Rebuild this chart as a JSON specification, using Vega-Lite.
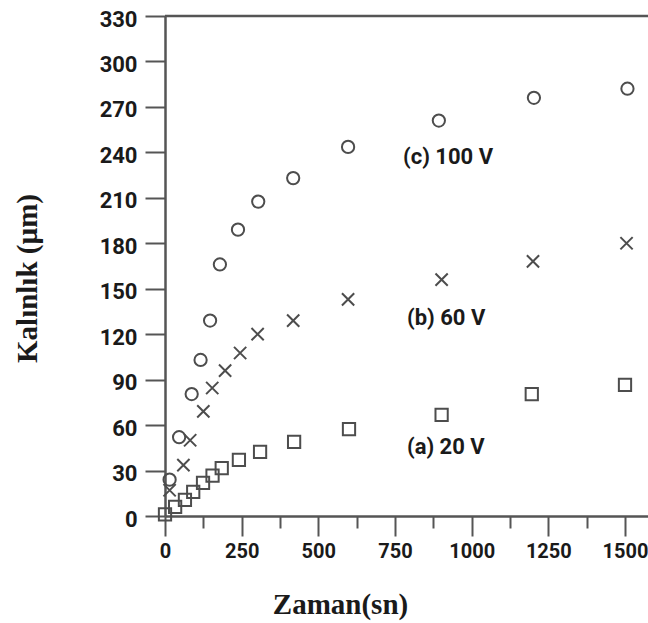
{
  "$schema": "https://vega.github.io/schema/vega-lite/v6.json",
  "width": 483,
  "height": 500,
  "autosize": {"type": "none"},
  "padding": {"left": 165, "top": 16, "right": 0, "bottom": 107},
  "background": "white",
  "config": {
    "view": {"stroke": null},
    "axis": {
      "domainColor": "#555555",
      "domainWidth": 2.5,
      "tickColor": "#555555",
      "tickWidth": 2,
      "grid": false,
      "labelFont": "Roboto, sans-serif",
      "labelFontWeight": "bold",
      "labelFontSize": 22,
      "labelColor": "#1a1a1a",
      "titleFont": "Liberation Serif, Times New Roman, serif",
      "titleFontWeight": "bold",
      "titleFontSize": 29,
      "titleColor": "#1a1a1a"
    }
  },
  "datasets": {
    "olcum": [
      {"t": 0, "k": 1, "seri": "a"},
      {"t": 33, "k": 6, "seri": "a"},
      {"t": 65, "k": 10.6, "seri": "a"},
      {"t": 92, "k": 16, "seri": "a"},
      {"t": 124, "k": 21.8, "seri": "a"},
      {"t": 155, "k": 26.6, "seri": "a"},
      {"t": 185, "k": 31.6, "seri": "a"},
      {"t": 241, "k": 37, "seri": "a"},
      {"t": 310, "k": 42.4, "seri": "a"},
      {"t": 421, "k": 49, "seri": "a"},
      {"t": 600, "k": 57.4, "seri": "a"},
      {"t": 902, "k": 66.7, "seri": "a"},
      {"t": 1196, "k": 80.5, "seri": "a"},
      {"t": 1500, "k": 86.5, "seri": "a"},
      {"t": 15, "k": 17, "seri": "b"},
      {"t": 60, "k": 33.6, "seri": "b"},
      {"t": 82, "k": 50, "seri": "b"},
      {"t": 125, "k": 69, "seri": "b"},
      {"t": 154, "k": 84.5, "seri": "b"},
      {"t": 196, "k": 96, "seri": "b"},
      {"t": 245, "k": 107.6, "seri": "b"},
      {"t": 302, "k": 120, "seri": "b"},
      {"t": 418, "k": 129, "seri": "b"},
      {"t": 597, "k": 143, "seri": "b"},
      {"t": 902, "k": 156, "seri": "b"},
      {"t": 1200, "k": 168, "seri": "b"},
      {"t": 1505, "k": 180, "seri": "b"},
      {"t": 15, "k": 24, "seri": "c"},
      {"t": 46, "k": 52, "seri": "c"},
      {"t": 87, "k": 80.5, "seri": "c"},
      {"t": 116, "k": 103, "seri": "c"},
      {"t": 147, "k": 129, "seri": "c"},
      {"t": 179, "k": 166, "seri": "c"},
      {"t": 238, "k": 189, "seri": "c"},
      {"t": 304, "k": 207.5, "seri": "c"},
      {"t": 418, "k": 223, "seri": "c"},
      {"t": 597, "k": 243.6, "seri": "c"},
      {"t": 893, "k": 261, "seri": "c"},
      {"t": 1203, "k": 276, "seri": "c"},
      {"t": 1508, "k": 282, "seri": "c"}
    ],
    "etiket": [
      {"t": 776, "k": 237, "metin": "(c) 100 V"},
      {"t": 789, "k": 131, "metin": "(b) 60 V"},
      {"t": 789, "k": 45.5, "metin": "(a) 20 V"}
    ]
  },
  "layer": [
    {
      "data": {"values": [{"k": 330}]},
      "mark": {"type": "rule", "color": "#555555", "strokeWidth": 2.5},
      "encoding": {
        "y": {"field": "k", "type": "quantitative"}
      }
    },
    {
      "data": {"name": "olcum"},
      "mark": {"type": "point", "filled": false, "strokeWidth": 2, "size": 150, "opacity": 1},
      "encoding": {
        "x": {
          "field": "t", "type": "quantitative",
          "scale": {"domain": [0, 1575], "nice": false, "zero": true},
          "axis": {
            "title": "Zaman(sn)",
            "values": [0, 125, 250, 375, 500, 625, 750, 875, 1000, 1125, 1250, 1375, 1500],
            "labelExpr": "datum.value % 250 === 0 ? datum.label : ''",
            "format": "d",
            "labelFontSize": 20,
            "tickSize": {"condition": {"test": "datum.value % 250 === 0", "value": 20}, "value": 12},
            "labelPadding": 5,
            "labelFlush": false,
            "labelOverlap": false,
            "titleX": 175,
            "titleY": 88,
            "titleAnchor": "middle",
            "titleBaseline": "middle"
          }
        },
        "y": {
          "field": "k", "type": "quantitative",
          "scale": {"domain": [0, 330], "nice": false},
          "axis": {
            "title": "Kalınlık (µm)",
            "values": [0, 30, 60, 90, 120, 150, 180, 210, 240, 270, 300, 330],
            "tickSize": 20,
            "labelPadding": 8,
            "labelOffset": 3,
            "labelFlush": false,
            "labelOverlap": false,
            "titleX": -138,
            "titleY": 262,
            "titleAngle": -90,
            "titleAnchor": "middle",
            "titleBaseline": "middle"
          }
        },
        "shape": {
          "field": "seri", "type": "nominal",
          "scale": {"domain": ["a", "b", "c"], "range": ["square", "M-1,-1L1,1M1,-1L-1,1", "circle"]},
          "legend": null
        },
        "color": {"value": "#4d4d4d"}
      }
    },
    {
      "data": {"name": "etiket"},
      "mark": {"type": "text", "align": "left", "baseline": "middle", "font": "Roboto, sans-serif", "fontWeight": "bold", "fontSize": 22, "color": "#1a1a1a"},
      "encoding": {
        "x": {"field": "t", "type": "quantitative"},
        "y": {"field": "k", "type": "quantitative"},
        "text": {"field": "metin"}
      }
    }
  ]
}
